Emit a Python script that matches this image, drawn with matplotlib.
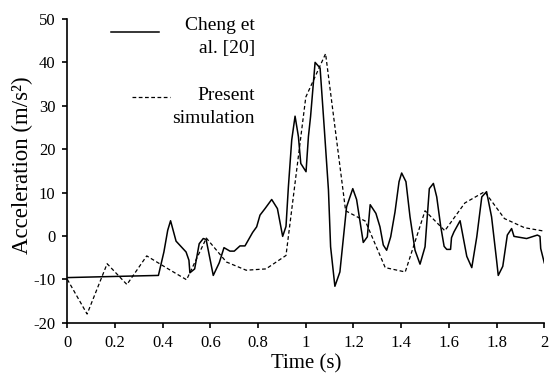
import matplotlib
matplotlib.use("Agg")
import matplotlib.pyplot as plt

plt.rcParams["font.family"] = ["Liberation Serif", "DejaVu Serif"]
plt.rcParams["axes.unicode_minus"] = False

# Cheng et al. [20]
cheng_t = [0.0, 0.15, 0.382, 0.405, 0.421, 0.433, 0.456, 0.498, 0.510, 0.514,
           0.534, 0.553, 0.570, 0.582, 0.612, 0.637, 0.657, 0.682, 0.700, 0.724,
           0.745, 0.777, 0.794, 0.808, 0.829, 0.857, 0.881, 0.903, 0.917, 0.927,
           0.941, 0.955, 0.969, 0.979, 1.001, 1.011, 1.020, 1.039, 1.060, 1.078,
           1.095, 1.104, 1.122, 1.143, 1.171, 1.197, 1.213, 1.241, 1.258, 1.270,
           1.294, 1.311, 1.325, 1.339, 1.356, 1.374, 1.391, 1.402, 1.420, 1.437,
           1.458, 1.479, 1.500, 1.518, 1.535, 1.549, 1.566, 1.580, 1.591, 1.607,
           1.611, 1.621, 1.647, 1.675, 1.696, 1.717, 1.738, 1.758, 1.779, 1.800,
           1.807, 1.826, 1.845, 1.863, 1.873, 1.926, 1.971, 1.982, 1.985, 2.0]
cheng_a = [-9.6, -9.4, -9.1, -3.7, 1.3, 3.5, -1.2, -3.7, -5.6, -8.5,
           -7.6, -1.8, -0.6, -0.8, -9.1, -6.2, -2.7, -3.5, -3.5, -2.3,
           -2.3, 0.8, 2.1, 4.8, 6.3, 8.4, 6.3, -0.1, 2.2, 11.3,
           22.1, 27.6, 22.9, 16.7, 14.8, 22.9, 27.5, 40.0, 38.7, 24.4,
           10.6, -2.5, -11.6, -8.3, 6.7, 10.9, 8.4, -1.5, -0.2, 7.2,
           5.2, 2.1, -2.1, -3.3, -0.2, 5.5, 12.5, 14.5, 12.5, 4.4,
           -3.3, -6.5, -2.5, 10.9, 12.1, 9.0, 2.1, -2.4, -3.1, -3.1,
           -0.4, 0.9, 3.5, -4.7, -7.3, -0.2, 9.0, 10.2, 4.4, -5.6,
           -9.1, -7.0, 0.2, 1.7, -0.1, -0.6, 0.2, -0.1, -2.9, -6.2]

# Present simulation
sim_t = [0.0, 0.083, 0.167, 0.25, 0.333, 0.417, 0.5, 0.583, 0.667, 0.75,
         0.833, 0.917, 1.0, 1.083, 1.167, 1.25, 1.333, 1.417, 1.5, 1.583,
         1.667, 1.75, 1.833, 1.917, 2.0]
sim_a = [-10.0, -18.0, -6.4, -11.2, -4.6, -7.4, -10.1, -0.5, -6.0, -7.9,
         -7.6, -4.5, 32.0, 42.0, 5.8, 3.4, -7.3, -8.3, 5.8, 1.2,
         7.6, 10.2, 4.0, 1.9, 1.1]

x_ticks = [0, 0.2, 0.4, 0.6, 0.8, 1.0, 1.2, 1.4, 1.6, 1.8, 2.0]
x_labels = ["0", "0.2", "0.4", "0.6", "0.8", "1", "1.2", "1.4", "1.6", "1.8", "2"]
y_ticks = [-20, -10, 0, 10, 20, 30, 40, 50]

fig = plt.figure(figsize=(5.49, 3.79), dpi=100)
ax = fig.add_axes([0.1226, 0.1485, 0.8688, 0.8014])

l1, = ax.plot(cheng_t, cheng_a, color="black", lw=1.1)
l2, = ax.plot(sim_t, sim_a, color="black", lw=0.9, linestyle=(0, (3, 2)))

ax.set_xlim(0, 2)
ax.set_ylim(-20, 50)
ax.set_xticks(x_ticks)
ax.set_xticklabels(x_labels)
ax.set_yticks(y_ticks)

for s in ["top", "right"]:
    ax.spines[s].set_visible(False)
for s in ["left", "bottom"]:
    ax.spines[s].set_linewidth(1.2)
ax.tick_params(direction="out", length=3.5, width=1.2, labelsize=12, pad=5)

ax.set_xlabel("Time (s)", fontsize=15, labelpad=3)
ax.set_ylabel("Acceleration (m/s²)", fontsize=16.5)
ax.yaxis.set_label_coords(-0.072, 0.52)

# two separate legend blocks, text right-aligned like the original
leg_kw = dict(loc="upper right", frameon=False, fontsize=14,
              borderpad=0, borderaxespad=0)
leg1 = ax.legend([l1], ["Cheng et\nal. [20]"], bbox_to_anchor=(0.3935, 1.005),
                 handlelength=2.47, handletextpad=1.35, **leg_kw)
ax.add_artist(leg1)
leg2 = ax.legend([l2], ["Present\nsimulation"], bbox_to_anchor=(0.3935, 0.775),
                 handlelength=1.95, handletextpad=0.12, **leg_kw)
for lg, lift in ((leg1, 3.2), (leg2, 6.8)):
    for t in lg.get_texts():
        t.set_multialignment("right")
        t.set_linespacing(1.4)
    h = lg.legend_handles[0]
    h.set_ydata([y + lift for y in h.get_ydata()])

fig.savefig("out.png", dpi=100)
